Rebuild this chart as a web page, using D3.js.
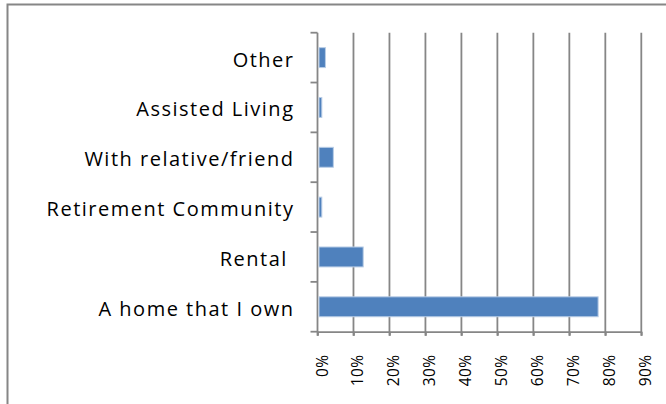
<!DOCTYPE html>
<html>
<head>
<meta charset="utf-8">
<script src="https://cdn.jsdelivr.net/npm/d3@7"></script>
<style>
  body { margin: 0; background: #fff; }
  svg text { font-family: "Open Sans", Lato, sans-serif; fill: #000; }
</style>
</head>
<body>
<div id="chart"></div>
<script>
// categories, bottom to top as in the picture
var categories = ["A home that I own", "Rental ", "Retirement Community", "With relative/friend", "Assisted Living", "Other"];
var shares = [0.78, 0.127, 0.012, 0.044, 0.012, 0.022];
var xTicks = [0, 0.1, 0.2, 0.3, 0.4, 0.5, 0.6, 0.7, 0.8, 0.9];

var svgWidth = 666, svgHeight = 404;
var margin = { top: 32.7, left: 317.5 };
var chartWidth = 641.3 - margin.left;
var chartHeight = 331.7 - margin.top;

var svg = d3.select("#chart").append("svg")
    .attr("width", svgWidth)
    .attr("height", svgHeight);

// outer frame (only top and left edges fall inside the picture)
svg.append("path")
    .attr("d", "M7.5,404 V4.5 H666")
    .attr("fill", "none")
    .attr("stroke", "#868686")
    .attr("stroke-width", 2);

var chartGroup = svg.append("g")
    .attr("transform", `translate(${margin.left}, ${margin.top})`);

var xScale = d3.scaleLinear()
    .domain([0, 0.9])
    .range([0, chartWidth]);

var yScale = d3.scaleBand()
    .domain(categories.slice().reverse())
    .range([0, chartHeight])
    .paddingInner(0.6)
    .paddingOuter(0.3);

// gridlines (run a little below the axis like tick marks)
chartGroup.append("g")
    .selectAll("line")
    .data(xTicks.slice(1))
    .enter()
    .append("line")
    .attr("x1", d => xScale(d))
    .attr("x2", d => xScale(d))
    .attr("y1", 0)
    .attr("y2", chartHeight + 4)
    .attr("stroke", "#868686")
    .attr("stroke-width", 1.8);

// bottom axis
var xAxis = d3.axisBottom(xScale)
    .tickValues(xTicks)
    .tickSize(4)
    .tickSizeOuter(0)
    .tickFormat(d3.format(".0%"));

var xg = chartGroup.append("g")
    .attr("transform", `translate(0, ${chartHeight})`)
    .call(xAxis);
xg.select(".domain").attr("stroke", "#868686").attr("stroke-width", 1.8);
xg.selectAll(".tick line").attr("stroke", "#868686").attr("stroke-width", 1.8);
xg.selectAll(".tick text")
    .attr("font-size", 15.5)
    .attr("text-anchor", "end")
    .attr("transform", "rotate(-90)")
    .attr("x", -23)
    .attr("y", 9.5)
    .attr("dy", 0)
    .style("letter-spacing", "0.3px");

// left axis: ticks on band boundaries
var step = yScale.step();
var boundaries = d3.range(categories.length + 1).map(i => i * step);
chartGroup.append("line")
    .attr("x1", 0).attr("x2", 0)
    .attr("y1", 0).attr("y2", chartHeight + 4)
    .attr("stroke", "#868686")
    .attr("stroke-width", 1.8);
chartGroup.append("g")
    .selectAll("line")
    .data(boundaries)
    .enter()
    .append("line")
    .attr("x1", -7).attr("x2", 0)
    .attr("y1", d => d).attr("y2", d => d)
    .attr("stroke", "#868686")
    .attr("stroke-width", 1.8);

// category labels
chartGroup.append("g")
    .selectAll("text")
    .data(categories)
    .enter()
    .append("text")
    .attr("x", -23)
    .attr("y", d => yScale(d) + yScale.bandwidth() / 2)
    .attr("dy", "0.45em")
    .attr("text-anchor", "end")
    .attr("font-size", 20)
    .style("white-space", "pre")
    .style("letter-spacing", "1.5px")
    .text(d => d);

// bars
chartGroup.selectAll("rect")
    .data(shares)
    .enter()
    .append("rect")
    .attr("x", 1.5)
    .attr("y", (d, i) => yScale(categories[i]))
    .attr("width", d => xScale(d) - 1.5)
    .attr("height", yScale.bandwidth())
    .attr("fill", "#4F81BD")
    .attr("stroke", "#b9cde6")
    .attr("stroke-width", 1);
</script>
</body>
</html>
